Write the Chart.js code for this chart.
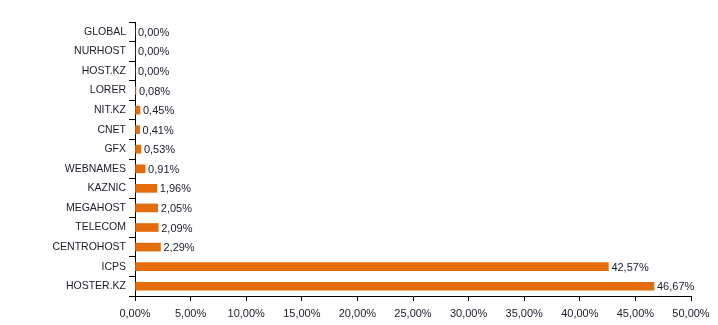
<!DOCTYPE html>
<html>
<head>
<meta charset="utf-8">
<script src="https://cdn.jsdelivr.net/npm/chart.js@4"></script>
<style>
  html, body { margin: 0; padding: 0; background: #fff; }
  #wrap { width: 718px; height: 325px; }
</style>
</head>
<body>
<div id="wrap"><canvas id="chart"></canvas></div>
<script>
  "use strict";

  const categories = ["GLOBAL", "NURHOST", "HOST.KZ", "LORER", "NIT.KZ", "CNET", "GFX",
    "WEBNAMES", "KAZNIC", "MEGAHOST", "TELECOM", "CENTROHOST", "ICPS", "HOSTER.KZ"];
  const shares = [0.00, 0.00, 0.00, 0.08, 0.45, 0.41, 0.53, 0.91, 1.96, 2.05, 2.09, 2.29, 42.57, 46.67];
  const xTicks = [0, 5, 10, 15, 20, 25, 30, 35, 40, 45, 50];

  const fmt = (v) => v.toFixed(2).replace(".", ",") + "%";
  const textColor = "#1a1a2a";
  const font = { family: "Liberation Sans, Arial, sans-serif", size: 10.5 };
  const valueFont = { family: "Liberation Sans, Arial, sans-serif", size: 11 };

  const valueLabels = {
    id: "valueLabels",
    afterDatasetsDraw(chart) {
      const ctx = chart.ctx;
      const meta = chart.getDatasetMeta(0);
      ctx.save();
      ctx.font = valueFont.size + "px " + valueFont.family;
      ctx.fillStyle = textColor;
      ctx.textAlign = "left";
      ctx.textBaseline = "middle";
      meta.data.forEach((bar, i) => {
        ctx.fillText(fmt(shares[i]), bar.x + 3, bar.y + 1);
      });
      ctx.restore();
    },
  };

  new Chart(document.getElementById("chart"), {
    type: "bar",
    data: {
      labels: categories,
      datasets: [
        {
          data: shares,
          backgroundColor: "#E46C0A",
          borderWidth: 0,
          barThickness: 8,
        },
      ],
    },
    options: {
      indexAxis: "y",
      responsive: true,
      maintainAspectRatio: false,
      animation: false,
      layout: { padding: { top: 22, right: 27, left: 0, bottom: 0 } },
      plugins: {
        legend: { display: false },
        tooltip: { enabled: false },
      },
      scales: {
        x: {
          min: 0,
          max: 50,
          afterBuildTicks(scale) {
            scale.ticks = xTicks.map((v) => ({ value: v }));
          },
          afterFit(scale) {
            scale.height = 29;
          },
          ticks: {
            color: textColor,
            font: valueFont,
            padding: 6,
            maxRotation: 0,
            callback: (v) => fmt(v),
          },
          grid: {
            drawOnChartArea: false,
            drawTicks: true,
            tickLength: 5,
            color: "#000",
          },
          border: { color: "#000", width: 1 },
        },
        y: {
          afterFit(scale) {
            scale.width = 135;
          },
          ticks: {
            color: textColor,
            font,
            padding: 3,
          },
          grid: {
            drawOnChartArea: false,
            drawTicks: true,
            tickLength: 6,
            color: "#000",
            offset: true,
          },
          border: { color: "#000", width: 1 },
        },
      },
    },
    plugins: [valueLabels],
  });
</script>
</body>
</html>
